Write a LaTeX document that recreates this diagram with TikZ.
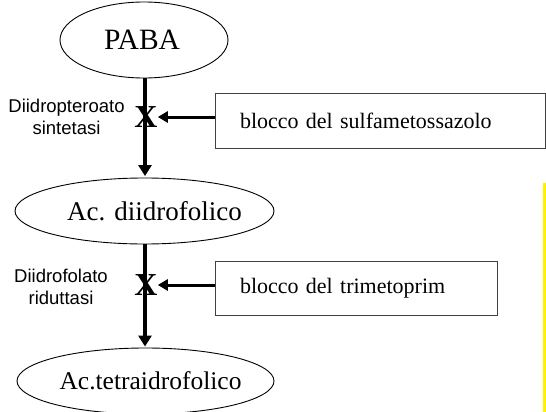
\documentclass[tikz,border=0pt]{standalone}
\usepackage{fontspec}
\setmainfont{Liberation Serif}
\newfontfamily\lsans{Liberation Sans}
\usetikzlibrary{shapes.geometric,arrows.meta}
\tikzset{
  oval/.style={ellipse, draw=black, line width=0.9pt, inner sep=0pt},
  blockbox/.style={rectangle, draw=black!75, line width=0.9pt, inner xsep=25pt, inner ysep=0pt, align=left,
    font=\fontsize{22}{26}\selectfont},
  enzyme/.style={align=center, inner sep=0pt, font=\lsans\fontsize{18.5}{22}\selectfont},
  crossmark/.style={inner sep=0pt, font=\bfseries\fontsize{32}{34}\selectfont},
  flow/.style={line width=3.5pt, -{Triangle[width=13pt,length=11pt]}},
  blockarrow/.style={line width=3pt, -{Triangle[width=11pt,length=10pt]}}
}
\begin{document}
\begin{tikzpicture}[x=1pt,y=-1pt]
\useasboundingbox (0,0) rectangle (546,412);
% yellow bar
\fill[yellow] (543,183) rectangle (546,412);
% ellipses
\node[oval, minimum width=168, minimum height=76, font=\fontsize{29.5}{32}\selectfont] (paba) at (144,40) {\makebox[0pt][c]{PABA\hspace{4pt}}};
\node[oval, minimum width=259, minimum height=66, font=\fontsize{27}{30}\selectfont] (dhf) at (144.5,211) {\makebox[0pt][c]{\hspace{20pt}Ac. diidrofolico}};
\node[oval, minimum width=257, minimum height=66, font=\fontsize{25.5}{28}\selectfont] (thf) at (145.5,381) {\makebox[0pt][c]{\hspace{10pt}Ac.tetraidrofolico}};
% boxes
\node[blockbox, text width=280pt, minimum height=55pt] (sulfa) at (380,120.5) {blocco del sulfametossazolo};
\node[blockbox, text width=232pt, minimum height=54pt] (trim) at (356,288) {blocco del trimetoprim};
% vertical flow arrows
\draw[flow, shorten >=1.5pt] (paba.south -| 145,0) -- (dhf.north -| 145,0);
\draw[flow, shorten >=1pt] (dhf.south -| 145,0) -- (thf.north -| 145,0);
% crosses
\node[crossmark] (x1) at (146,117) {X};
\node[crossmark] (x2) at (146,285) {X};
% block arrows
\draw[blockarrow] (sulfa.west |- x1) -- (x1.east);
\draw[blockarrow] (trim.west |- x2) -- (x2.east);
% enzyme labels
\node[enzyme] (enz1) at (66.5,117.3) {Diidropteroato\\sintetasi};
\node[enzyme] (enz2) at (61,287.3) {Diidrofolato\\riduttasi};
\end{tikzpicture}
\end{document}
